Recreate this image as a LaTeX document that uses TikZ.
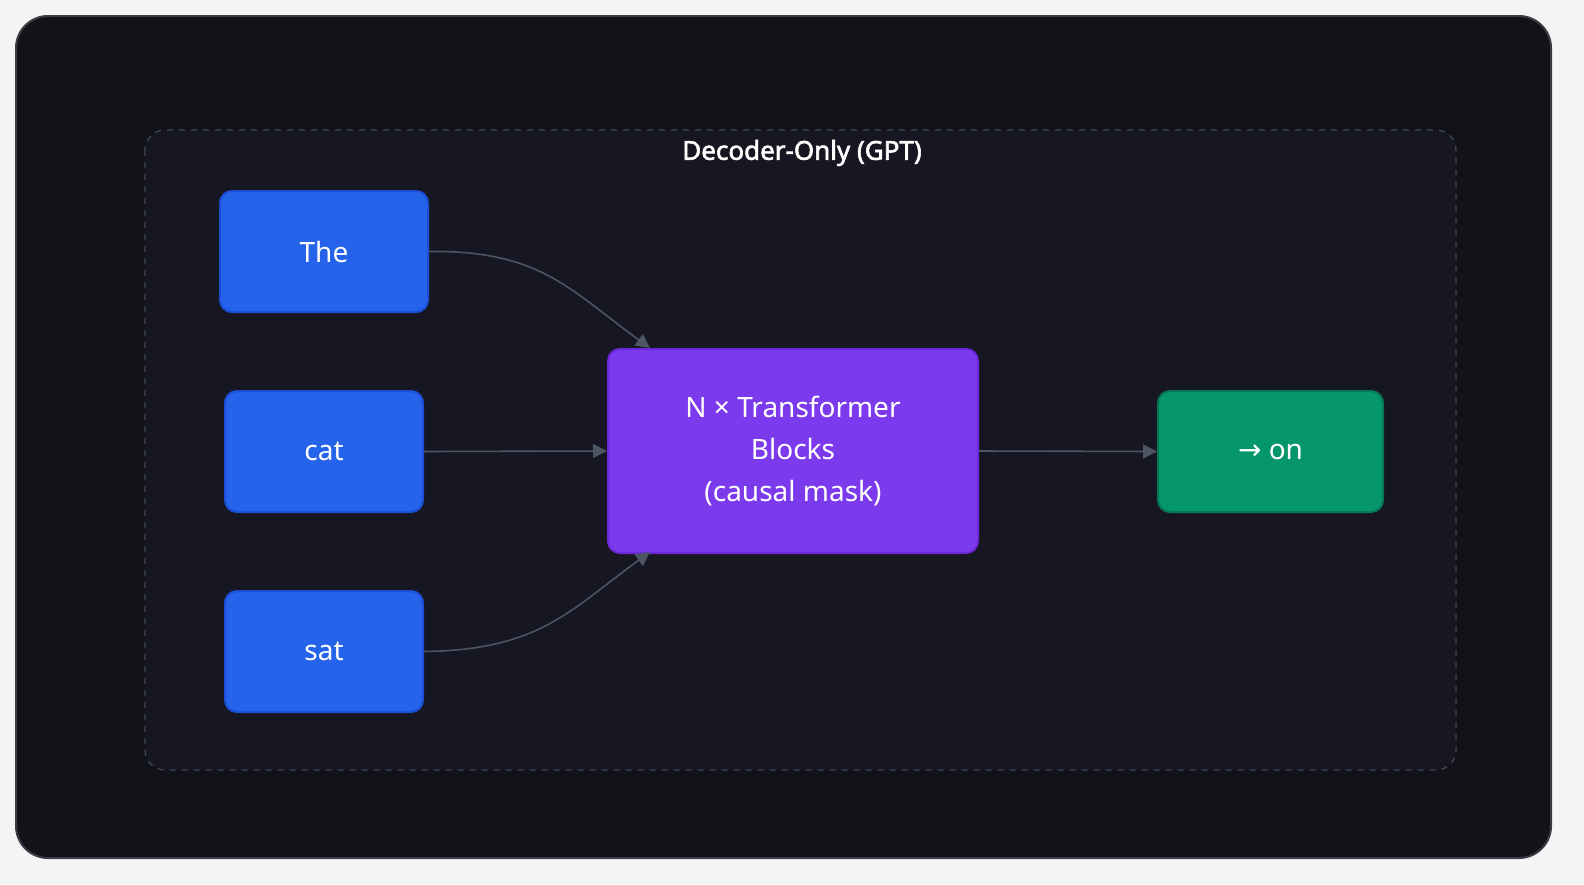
\documentclass[tikz,border=0pt]{standalone}
\usepackage{fontspec}
\setmainfont{Noto Sans}
\newfontfamily\titlefont{Noto Sans}[FakeBold=2.2]
\newfontfamily\arrowfont{DejaVu Sans}
\usetikzlibrary{arrows.meta}
\definecolor{pagebg}{HTML}{F4F4F5}
\definecolor{canvas}{HTML}{111318}
\definecolor{canvasborder}{HTML}{3A3D45}
\definecolor{groupbg}{HTML}{161722}
\definecolor{groupline}{HTML}{3F4554}
\definecolor{blueA}{HTML}{2563EB}
\definecolor{blueB}{HTML}{1D4ED8}
\definecolor{purpA}{HTML}{7C3AED}
\definecolor{purpB}{HTML}{6D28D9}
\definecolor{greenA}{HTML}{059669}
\definecolor{greenB}{HTML}{047857}
\definecolor{edgec}{HTML}{4B5563}
\begin{document}
\begin{tikzpicture}[x=0.5pt,y=-0.5pt,
  box/.style={draw, line width=1pt, rounded corners=6pt, text=white, font=\fontsize{14}{21}\selectfont, align=center, anchor=north west, inner sep=0pt},
  edge/.style={draw=edgec, line width=0.8pt, -{Triangle[length=7pt,width=7pt]}}]
\useasboundingbox (0,0) rectangle (1584,884);
\fill[pagebg] (0,0) rectangle (1584,884);
\draw[fill=canvas, draw=canvasborder, line width=1pt, rounded corners=16pt] (16,16) rectangle (1551,858);
\draw[fill=groupbg, draw=groupline, dashed, line width=0.7pt, rounded corners=10pt] (145,130) rectangle (1456,770);
\node[text=white, font=\titlefont\fontsize{13}{16}\selectfont] (title) at (802,153) {Decoder-Only (GPT)};
\node[box, fill=blueA, draw=blueB, minimum width=104pt, minimum height=60.5pt] (the) at (219,190) {The};
\node[box, fill=blueA, draw=blueB, minimum width=99pt, minimum height=60.5pt] (cat) at (224,390) {cat};
\node[box, fill=blueA, draw=blueB, minimum width=99pt, minimum height=60.5pt] (sat) at (224,590) {sat};
\node[box, fill=purpA, draw=purpB, minimum width=185pt, minimum height=102pt] (tb) at (607,348) {N × Transformer\\Blocks\\(causal mask)};
\node[box, fill=greenA, draw=greenB, minimum width=112.5pt, minimum height=60.5pt] (on) at (1157,390) {{\arrowfont →} on};
\coordinate (tbtop) at (650,348);
\coordinate (tbbot) at (650,552);
\draw[edge] (the.east) .. controls (540,250) and (570,290) .. (tbtop);
\draw[edge] (cat.east) -- (tb.west);
\draw[edge] (sat.east) .. controls (540,650) and (570,610) .. (tbbot);
\draw[edge] (tb.east) -- (on.west);
\end{tikzpicture}
\end{document}
